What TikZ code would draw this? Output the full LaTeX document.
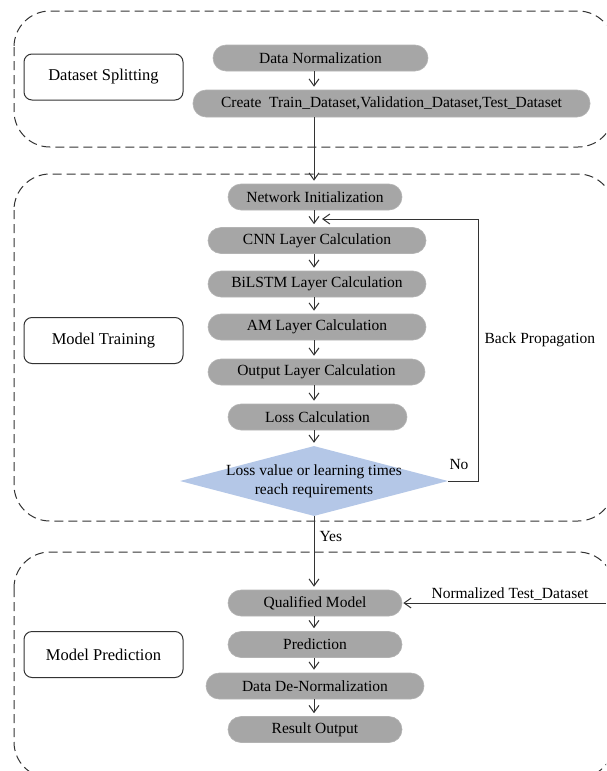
\documentclass[tikz,border=0pt]{standalone}
\usepackage{fontspec}
\setmainfont{Liberation Serif}
\usetikzlibrary{arrows.meta,shapes.geometric}
\definecolor{pillgray}{HTML}{A6A6A6}
\definecolor{diablue}{HTML}{B4C7E7}
\definecolor{ink}{HTML}{333333}

\begin{document}
\begin{tikzpicture}[x=1pt,y=-1pt,
  every node/.style={font=\fontsize{15.5}{18}\selectfont, text=black},
  pill/.style={rectangle, rounded corners=13pt, fill=pillgray, draw=pillgray!85!white,
    line width=0.6pt, minimum height=26pt, inner sep=0pt},
  stage/.style={rectangle, rounded corners=8pt, draw=ink, line width=1pt,
    minimum width=159pt, minimum height=46pt, inner sep=0pt,
    font=\fontsize{16.5}{19}\selectfont},
  group/.style={draw=ink, line width=1pt, dash pattern=on 9pt off 5pt, rounded corners=36pt},
  arr/.style={draw=ink, line width=1pt, -{Straight Barb[length=7pt,width=10pt]}, shorten >=3pt},
]
\useasboundingbox (0,0) rectangle (606,771);
\clip (0,0) rectangle (606,771);

% dashed stage frames
\draw[group] (14,11) rectangle (614,147);
\draw[group] (14,174) rectangle (614,521);
\draw[group] (14,552) rectangle (614,778);

% main flow axis
\coordinate (ax) at (314,0);

% dataset splitting
\node[stage] (ds) at (103.5,77) {Dataset Splitting};
\node[pill, minimum width=215pt] (dn) at (320.5,58) {Data Normalization};
\node[pill, minimum width=397pt, minimum height=27pt] (cr) at (391.5,103.5)
  {Create\ \ Train\_Dataset,Validation\_Dataset,Test\_Dataset};

% model training
\node[stage] (mt) at (103.5,340.5) {Model Training};
\node[pill, minimum width=174pt] (ni) at (315,197) {Network Initialization};
\node[pill, minimum width=218pt] (cnn) at (317,240.5) {CNN Layer Calculation};
\node[pill, minimum width=218pt] (bi) at (317,284) {BiLSTM Layer Calculation};
\node[pill, minimum width=218pt] (am) at (317,327) {AM Layer Calculation};
\node[pill, minimum width=217pt] (out) at (316.5,372) {Output Layer Calculation};
\node[pill, minimum width=179pt] (loss) at (317.5,417) {Loss Calculation};
\node[diamond, fill=diablue, minimum width=268pt, minimum height=70pt, inner sep=0pt]
  (dia) at (314,481)
  {\makebox[0pt]{\raisebox{-2pt}{\begin{tabular}{@{}c@{}}Loss value or learning times\\[1pt]reach requirements\end{tabular}}}};

% model prediction
\node[stage] (mp) at (103.5,654.5) {Model Prediction};
\node[pill, minimum width=174pt] (qm) at (315,603) {Qualified Model};
\node[pill, minimum width=174pt] (pr) at (315,644.5) {Prediction};
\node[pill, minimum width=218pt] (dd) at (315,686) {Data De-Normalization};
\node[pill, minimum width=174pt] (ro) at (315,729.5) {Result Output};

% flow arrows
\draw[arr] (dn.south -| ax) -- (cr.north -| ax);
\draw[arr] (cr.south -| ax) -- (ni.north -| ax);
\draw[arr] (ni.south -| ax) -- (cnn.north -| ax);
\draw[arr] (cnn.south -| ax) -- (bi.north -| ax);
\draw[arr] (bi.south -| ax) -- (am.north -| ax);
\draw[arr] (am.south -| ax) -- (out.north -| ax);
\draw[arr] (out.south -| ax) -- (loss.north -| ax);
\draw[arr] (loss.south -| ax) -- (dia.north -| ax);
\draw[arr] (dia.south -| ax) -- (qm.north -| ax);
\draw[arr] (qm.south -| ax) -- (pr.north -| ax);
\draw[arr] (pr.south -| ax) -- (dd.north -| ax);
\draw[arr] (dd.south -| ax) -- (ro.north -| ax);

% back propagation loop
\coordinate (bpc) at (478,219);
\coordinate (bpin) at (322,219);
\draw[arr, shorten >=0pt] (dia.east) -| (bpc) -- (bpin);
\node (no) at (459,464) {No};
\node[anchor=west] (bp) at (481,340) {Back Propagation};
\node[anchor=west] (yes) at (316,536) {Yes};

% test data input
\coordinate (ntin) at (606,603);
\draw[arr, shorten >=1pt] (ntin) -- (qm.east);
\node (ntl) at (510,594) {Normalized Test\_Dataset};
\end{tikzpicture}
\end{document}
